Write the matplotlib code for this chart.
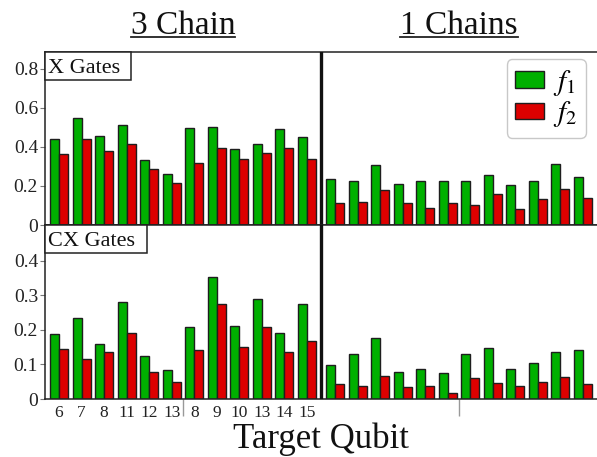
import numpy as np
import matplotlib
matplotlib.use("Agg")
import matplotlib.pyplot as plt
from matplotlib.patches import Rectangle
from matplotlib.lines import Line2D
from matplotlib.ticker import FixedLocator, NullFormatter, FixedFormatter

plt.rcParams["font.family"] = ["Liberation Serif", "DejaVu Serif"]
plt.rcParams["mathtext.fontset"] = "stix"

# ---- data -------------------------------------------------------------
target_labels = ["6", "7", "8", "11", "12", "13", "8", "9", "10", "13", "14", "15"]

x_f1_3chain = [0.441, 0.547, 0.458, 0.515, 0.335, 0.262, 0.497, 0.501, 0.390, 0.417, 0.492, 0.451]
x_f2_3chain = [0.362, 0.441, 0.378, 0.417, 0.289, 0.215, 0.316, 0.397, 0.340, 0.368, 0.397, 0.337]
x_f1_1chain = [0.238, 0.227, 0.308, 0.212, 0.224, 0.227, 0.227, 0.258, 0.207, 0.227, 0.311, 0.248]
x_f2_1chain = [0.115, 0.120, 0.178, 0.115, 0.085, 0.115, 0.104, 0.161, 0.082, 0.132, 0.183, 0.137]

cx_f1_3chain = [0.189, 0.234, 0.158, 0.281, 0.124, 0.084, 0.209, 0.352, 0.212, 0.291, 0.192, 0.275]
cx_f2_3chain = [0.145, 0.116, 0.136, 0.192, 0.079, 0.050, 0.142, 0.276, 0.150, 0.209, 0.136, 0.168]
cx_f1_1chain = [0.099, 0.131, 0.177, 0.078, 0.087, 0.076, 0.131, 0.148, 0.087, 0.104, 0.136, 0.142]
cx_f2_1chain = [0.043, 0.037, 0.068, 0.034, 0.037, 0.016, 0.060, 0.047, 0.037, 0.050, 0.063, 0.043]

# ---- layout -------------------------------------------------------------
W, H = 597, 457
fig = plt.figure(figsize=(W / 100, H / 100), dpi=100)


def fx(px):
    return px / W


def fy(py):
    return 1 - py / H


ax_top = fig.add_axes([fx(45), fy(225), fx(597) - fx(45), fy(52) - fy(225)])
ax_bot = fig.add_axes([fx(45), fy(399), fx(597) - fx(45), fy(225) - fy(399)])

GREEN = "#00b000"
RED = "#dd0000"
EDGE = "#1e1e1e"
bar_w = 0.4
n = len(target_labels)
pos_3 = np.arange(n, dtype=float)
pos_1 = np.arange(n, dtype=float) + n + 0.24
split = n - 0.38
xmin, xmax = -0.62, pos_1[-1] + 0.62


def draw_panel(ax, f1_3, f2_3, f1_1, f2_1, ymax, yticks, ylabels, name, box_w_px, box_h_px, ax_h_px):
    b1 = ax.bar(pos_3 - bar_w / 2, f1_3, bar_w, color=GREEN, edgecolor=EDGE, linewidth=1.0, label=r"$f_1$")
    b2 = ax.bar(pos_3 + bar_w / 2, f2_3, bar_w, color=RED, edgecolor=EDGE, linewidth=1.0, label=r"$f_2$")
    ax.bar(pos_1 - bar_w / 2, f1_1, bar_w, color=GREEN, edgecolor=EDGE, linewidth=1.0)
    ax.bar(pos_1 + bar_w / 2, f2_1, bar_w, color=RED, edgecolor=EDGE, linewidth=1.0)
    ax.axvline(split, color="#111111", linewidth=2.4, zorder=5)
    ax.set_xlim(xmin, xmax)
    ax.set_ylim(0, ymax)
    ax.set_yticks(yticks)
    ax.set_yticklabels(ylabels)
    ax.tick_params(axis="y", direction="out", length=3.5, width=0.8, color="#777777",
                   pad=1.5, labelsize=14, labelcolor="#222222")
    for side in ("left", "bottom", "top"):
        ax.spines[side].set_color("#222222")
        ax.spines[side].set_linewidth(1.1)
    ax.spines["right"].set_visible(False)
    # boxed panel label in the upper-left corner
    aw = 552.0
    rect = Rectangle((0, 1 - box_h_px / ax_h_px), box_w_px / aw, box_h_px / ax_h_px,
                     transform=ax.transAxes, facecolor="white", edgecolor="#222222",
                     linewidth=1.1, zorder=6, clip_on=False)
    ax.add_patch(rect)
    ax.text(3.5 / aw, 1 - (box_h_px / 2) / ax_h_px, name, transform=ax.transAxes,
            ha="left", va="center_baseline", fontsize=16, color="#111111", zorder=7)
    return b1, b2


b1, b2 = draw_panel(ax_top, x_f1_3chain, x_f2_3chain, x_f1_1chain, x_f2_1chain,
                    0.887, [0, 0.2, 0.4, 0.6, 0.8], ["0", "0.2", "0.4", "0.6", "0.8"],
                    "X Gates", 86, 28, 173)
draw_panel(ax_bot, cx_f1_3chain, cx_f2_3chain, cx_f1_1chain, cx_f2_1chain,
           0.504, [0, 0.1, 0.2, 0.3, 0.4], ["0", "0.1", "0.2", "0.3", "0.4"],
           "CX Gates", 102, 28, 174)

# top panel: no x ticks
ax_top.set_xticks([])

# bottom panel: qubit labels on minor ticks, group separators as major ticks
ax_bot.xaxis.set_major_locator(FixedLocator([5.5, pos_1[0] + 5.5]))
ax_bot.xaxis.set_major_formatter(NullFormatter())
ax_bot.xaxis.set_minor_locator(FixedLocator(list(pos_3)))
ax_bot.xaxis.set_minor_formatter(FixedFormatter(target_labels))
ax_bot.tick_params(axis="x", which="major", direction="out", length=12.5, width=1.0, color="#999999")
ax_bot.tick_params(axis="x", which="minor", length=0, pad=4, labelsize=12.5, labelcolor="#222222")

# legend
leg = ax_top.legend(handles=[b1, b2], loc="upper right",
                    bbox_to_anchor=(fx(586), fy(59)), bbox_transform=fig.transFigure,
                    borderaxespad=0, fontsize=21, frameon=True, fancybox=True,
                    handlelength=1.0, handleheight=0.5, handletextpad=0.3,
                    labelspacing=0.05, borderpad=0.3)
leg.get_frame().set_edgecolor("#bbbbbb")
leg.get_frame().set_linewidth(1.0)
leg.set_zorder(10)

# section titles and axis label
t1 = fig.text(fx(183), fy(33.5), "3 Chain", ha="center", va="baseline", fontsize=24, color="#111111")
t2 = fig.text(fx(459), fy(33.5), "1 Chains", ha="center", va="baseline", fontsize=24, color="#111111")
fig.text(fx(321), fy(448), "Target Qubit", ha="center", va="baseline", fontsize=25, color="#111111")

# underline the section titles
fig.canvas.draw()
renderer = fig.canvas.get_renderer()
for t in (t1, t2):
    bb = t.get_window_extent(renderer)
    y_line = fy(37)
    fig.add_artist(Line2D([bb.x0 / W, bb.x1 / W], [y_line, y_line],
                          transform=fig.transFigure, color="#222222", linewidth=1.3))

fig.savefig("out.png", dpi=100)
